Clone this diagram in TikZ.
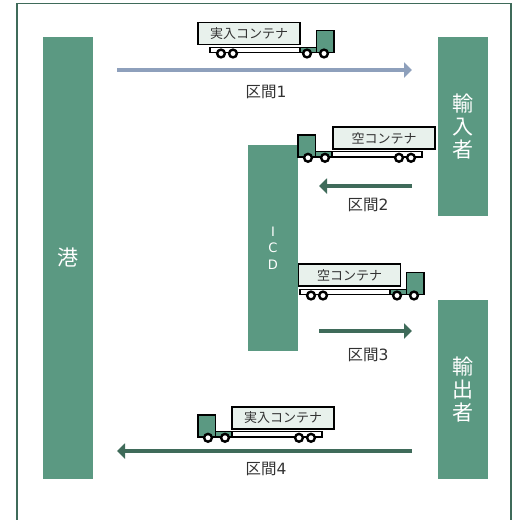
\documentclass[tikz,border=0pt]{standalone}
\usepackage{fontspec}
\setmainfont{Noto Sans CJK JP}
\newfontfamily\numfont{DejaVu Sans}
\usetikzlibrary{arrows.meta}
\definecolor{sitegreen}{RGB}{91,153,130}
\definecolor{darkgreen}{RGB}{63,107,90}
\definecolor{routeblue}{RGB}{142,160,188}
\definecolor{softgreen}{RGB}{232,241,236}
\definecolor{labelgray}{RGB}{50,50,50}
\tikzset{
  truck/.pic={
    \draw[line width=1.2pt,fill=white] (-124,-5.5) rectangle (0,0);
    \draw[line width=1.2pt,fill=sitegreen] (-34,-5.5) rectangle (0,0);
    \draw[line width=1.2pt,fill=sitegreen] (-17.5,-22) rectangle (0,0);
    \foreach \wx in {-113,-101,-27,-10}
      \draw[line width=2.4pt,fill=white] (\wx,0.8) circle (3.9);
  }
}
\begin{document}
\begin{tikzpicture}[x=1pt,y=-1pt,>={Triangle[length=8pt,width=15pt]}]
\tikzstyle{site}=[fill=sitegreen,inner sep=0pt,minimum width=50pt,align=center,text=white,font=\fontsize{21}{23}\selectfont]
\tikzstyle{cargo}=[draw=black,line width=1.2pt,fill=softgreen,inner sep=0pt,minimum width=102pt,minimum height=22pt,text=labelgray,font=\fontsize{13}{15}\selectfont]
\tikzstyle{route}=[text=labelgray,inner sep=0pt,font=\fontsize{15.5}{16}\selectfont]
\useasboundingbox (0,0) rectangle (520,520);
\draw[darkgreen,line width=1.4pt] (17,520)--(17,3.5)--(511,3.5)--(511,520);
% sites
\node[site,minimum height=442pt] (port) at (68,258) {港};
\node[site,minimum height=179pt] (importer) at (463,126.5) {輸\\入\\者};
\node[site,minimum height=179pt] (exporter) at (463,389.5) {輸\\出\\者};
\node[site,minimum height=206pt,font=\numfont\fontsize{13}{16.5}\selectfont] (icd) at (273,248) {I\\C\\D};
% trucks
\pic at (334,52.7) {truck};
\node[cargo] (cargoa) at (249,33.5) {実入コンテナ};
\pic[xscale=-1] at (298,157) {truck};
\node[cargo] (cargob) at (384,138) {空コンテナ};
\pic at (424,294.7) {truck};
\node[cargo] (cargoc) at (349.5,275) {空コンテナ};
\pic[xscale=-1] at (198,437) {truck};
\node[cargo] (cargod) at (283,418) {実入コンテナ};
% routes
\coordinate (afrom) at (117,70); \coordinate (ato) at (412,70);
\coordinate (bfrom) at (412,186); \coordinate (bto) at (319,186);
\coordinate (cfrom) at (319,331); \coordinate (cto) at (412,331);
\coordinate (dfrom) at (412,451); \coordinate (dto) at (117,451);
\draw[->,line width=3.6pt,routeblue] (afrom)--(ato);
\draw[->,line width=3.6pt,darkgreen] (bfrom)--(bto);
\draw[->,line width=3.6pt,darkgreen] (cfrom)--(cto);
\draw[->,line width=3.6pt,darkgreen] (dfrom)--(dto);
\node[route] (routea) at (266,91.5) {区間{\numfont 1}};
\node[route] (routeb) at (368,205) {区間{\numfont 2}};
\node[route] (routec) at (368,355) {区間{\numfont 3}};
\node[route] (routed) at (266,469) {区間{\numfont 4}};
\end{tikzpicture}
\end{document}
